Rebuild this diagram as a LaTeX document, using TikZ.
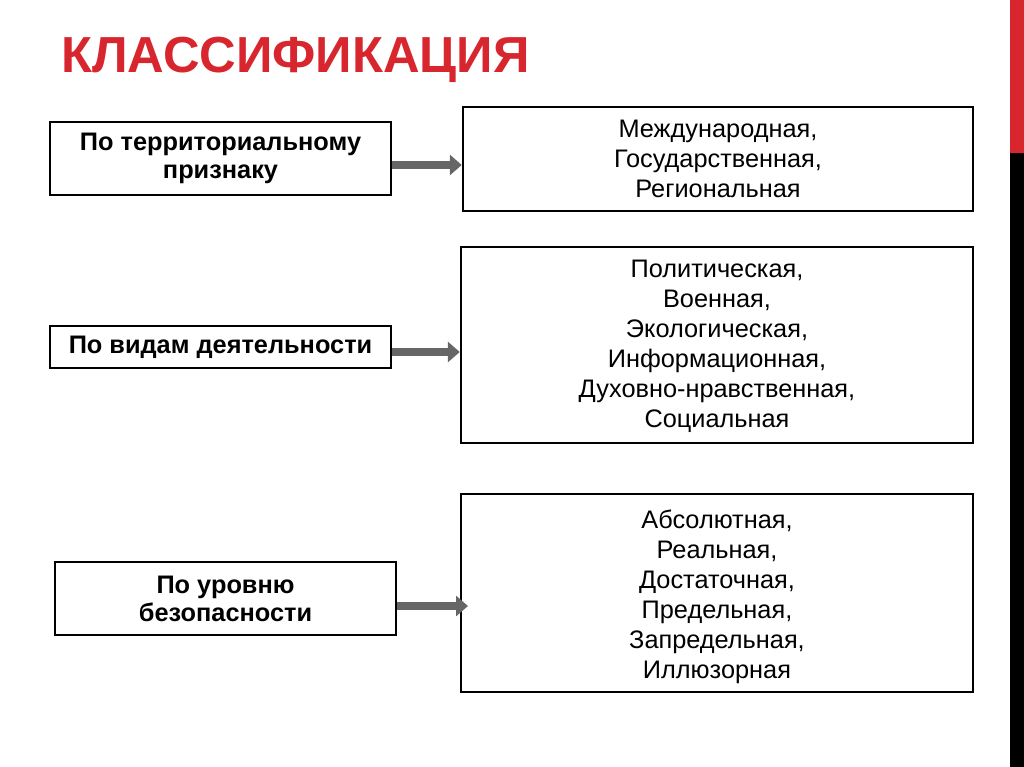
\documentclass[tikz,border=0pt]{standalone}
\usepackage{fontspec}
\setmainfont{Liberation Sans}
\usetikzlibrary{arrows.meta}
\begin{document}
\begin{tikzpicture}[x=0.75pt,y=-0.75pt,
  lbox/.style={draw,line width=2.2pt,font=\bfseries\fontsize{19}{21}\selectfont,align=center,inner sep=0pt},
  rbox/.style={draw,line width=1.8pt,inner sep=0pt},
  rtxt/.style={font=\fontsize{19}{22.5}\selectfont,align=center,anchor=north},
  arr/.style={draw=black!60,line width=6pt,-{Triangle[length=9pt,width=15pt]},shorten >=0pt}]
\useasboundingbox (0,0) rectangle (1024,767);
\fill[fill={rgb,255:red,215;green,38;blue,46}] (1010,0) rectangle (1024,153);
\fill[black] (1010,153) rectangle (1024,767);
\node[anchor=west,inner sep=0pt,text={rgb,255:red,215;green,38;blue,46},font=\bfseries\fontsize{38}{40}\selectfont] (title) at (61,60) {КЛАССИФИКАЦИЯ};
% left boxes
\node[lbox,minimum width=341*0.75pt,minimum height=73*0.75pt] (l1) at (220.5,158.5) {По территориальному\\признаку};
\node[lbox,minimum width=341*0.75pt,minimum height=42*0.75pt] (l2) at (220.5,347) {По видам деятельности};
\node[lbox,minimum width=341*0.75pt,minimum height=73*0.75pt] (l3) at (225.5,598.5) {По уровню\\безопасности};
% right boxes
\node[rbox,minimum width=510*0.75pt,minimum height=104*0.75pt] (r1) at (718,159) {};
\node[rbox,minimum width=512*0.75pt,minimum height=196*0.75pt] (r2) at (717,345) {};
\node[rbox,minimum width=512*0.75pt,minimum height=198*0.75pt] (r3) at (717,593) {};
\node[rtxt] (t1) at (718,115) {Международная,\\Государственная,\\Региональная};
\node[rtxt] (t2) at (717,255) {Политическая,\\Военная,\\Экологическая,\\Информационная,\\Духовно-нравственная,\\Социальная};
\node[rtxt] (t3) at (717,505) {Абсолютная,\\Реальная,\\Достаточная,\\Предельная,\\Запредельная,\\Иллюзорная};
% arrows
\draw[arr] (l1.east|-0,165) -- (r1.west|-0,165);
\draw[arr] (l2.east|-0,352) -- (r2.west|-0,352);
\draw[arr] (l3.east|-0,606) -- (468,606);
\end{tikzpicture}
\end{document}
